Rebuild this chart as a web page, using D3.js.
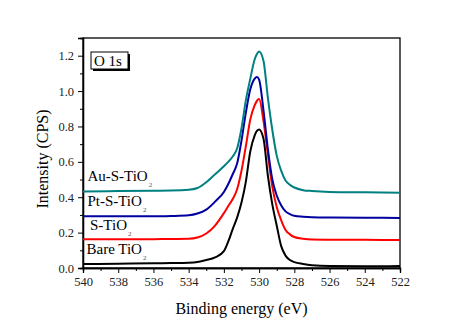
<!DOCTYPE html>
<html>
<head>
<meta charset="utf-8">
<script src="https://cdn.jsdelivr.net/npm/d3@7"></script>
<style>
  body { margin: 0; background: #fff; }
  svg { display: block; }
  text { font-family: "Liberation Serif", "Times New Roman", serif; }
</style>
</head>
<body>
<div id="plot"></div>
<script>
// binding energy grid (eV), shared by all spectra
const energy = [540, 538, 536, 535, 534, 533.5, 533, 532.5, 532, 531.75, 531.5, 531.25, 531,
  530.75, 530.5, 530.25, 530.125, 530, 529.75, 529.5, 529.25, 529, 528.75, 528.5, 528.25, 528,
  527.5, 527, 526, 524, 522];

const bareTiO2 = [0.022, 0.024, 0.027, 0.028, 0.030, 0.034, 0.045, 0.060, 0.095, 0.15, 0.22, 0.285, 0.37,
  0.49, 0.66, 0.75, 0.775, 0.783, 0.73, 0.52, 0.36, 0.24, 0.125, 0.07, 0.045, 0.033,
  0.023, 0.016, 0.011, 0.010, 0.012];
const sTiO2 = [0.163, 0.162, 0.163, 0.164, 0.165, 0.172, 0.195, 0.24, 0.31, 0.35, 0.39, 0.445, 0.55,
  0.69, 0.84, 0.92, 0.945, 0.955, 0.83, 0.64, 0.46, 0.345, 0.27, 0.215, 0.19, 0.175,
  0.165, 0.161, 0.160, 0.159, 0.158];
const ptSTiO2 = [0.292, 0.293, 0.292, 0.294, 0.298, 0.308, 0.33, 0.375, 0.43, 0.475, 0.53, 0.59, 0.72,
  0.88, 1.01, 1.07, 1.08, 1.065, 0.89, 0.67, 0.50, 0.41, 0.355, 0.32, 0.305, 0.295,
  0.290, 0.287, 0.285, 0.284, 0.283];
const auSTiO2 = [0.432, 0.435, 0.437, 0.438, 0.442, 0.452, 0.485, 0.53, 0.575, 0.60, 0.63, 0.675, 0.79,
  0.95, 1.07, 1.18, 1.21, 1.224, 1.17, 0.96, 0.78, 0.635, 0.55, 0.495, 0.47, 0.455,
  0.440, 0.435, 0.430, 0.428, 0.426];

const seriesNames = ["Bare TiO", "S-TiO", "Pt-S-TiO", "Au-S-TiO"];
const seriesData = [bareTiO2, sTiO2, ptSTiO2, auSTiO2];
const seriesColors = ["#000000", "#ff0000", "#0000a0", "#008080"];
// label anchors (energy, intensity) placed above each baseline
const labelPos = [[539.8, 0.078], [539.6, 0.213], [539.75, 0.348], [539.75, 0.493]];

const xTicks = d3.range(540, 521, -2);
const yTicks = [0, 0.2, 0.4, 0.6, 0.8, 1.0, 1.2];

const width = 464, height = 323;
const margin = { top: 38, right: 64, bottom: 55, left: 83 };

const svg = d3.select("#plot").append("svg")
  .attr("width", width)
  .attr("height", height);

const x = d3.scaleLinear()
  .domain([540, 522])
  .range([margin.left, width - margin.right]);

const y = d3.scaleLinear()
  .domain([0, 1.3])
  .range([height - margin.bottom, margin.top]);

// frame
svg.append("rect")
  .attr("x", x(540)).attr("y", y(1.3))
  .attr("width", x(522) - x(540)).attr("height", y(0) - y(1.3))
  .attr("fill", "none").attr("stroke", "#000").attr("stroke-width", 1.3);

// x axis: major + minor ticks
svg.append("g")
  .attr("class", "axis")
  .attr("transform", `translate(0,${y(0)})`)
  .call(d3.axisBottom(x).tickValues(xTicks).tickFormat(d3.format("d")).tickSize(5).tickPadding(4));
svg.append("g")
  .attr("class", "axis")
  .attr("transform", `translate(0,${y(0)})`)
  .call(d3.axisBottom(x).tickValues(d3.range(539, 522, -2)).tickFormat("").tickSize(3));

// y axis
svg.append("g")
  .attr("class", "axis")
  .attr("transform", `translate(${x(540)},0)`)
  .call(d3.axisLeft(y).tickValues(yTicks).tickFormat(d3.format(".1f")).tickSize(5).tickPadding(4));
svg.append("g")
  .attr("class", "axis")
  .attr("transform", `translate(${x(540)},0)`)
  .call(d3.axisLeft(y).tickValues([0.1, 0.3, 0.5, 0.7, 0.9, 1.1, 1.3]).tickFormat("").tickSize(3));

svg.selectAll("g.axis")
  .attr("font-family", "Liberation Serif, serif")
  .attr("font-size", 12.5);
svg.selectAll(".domain").attr("stroke", "#000").attr("stroke-width", 1.3);
svg.selectAll(".tick line").attr("stroke", "#000").attr("stroke-width", 1);
svg.selectAll(".tick text").attr("fill", "#222");

// spectra
const line = d3.line()
  .x((d, i) => x(energy[i]))
  .y(d => y(d))
  .curve(d3.curveMonotoneX);

seriesData.forEach((vals, k) => {
  svg.append("path")
    .datum(vals)
    .attr("d", line)
    .attr("fill", "none")
    .attr("stroke", seriesColors[k])
    .attr("stroke-width", 2);
});

// series labels with subscript 2
seriesNames.forEach((name, k) => {
  const t = svg.append("text")
    .attr("x", x(labelPos[k][0]))
    .attr("y", y(labelPos[k][1]))
    .attr("font-size", 15)
    .attr("fill", "#000")
    .text(name);
  t.append("tspan")
    .attr("dy", 6)
    .attr("dx", 1)
    .attr("font-size", 7)
    .attr("fill", "#555")
    .text("2");
});

// "O 1s" box with shadow
svg.append("rect")
  .attr("x", 93).attr("y", 54).attr("width", 37).attr("height", 17)
  .attr("fill", "#000");
svg.append("rect")
  .attr("x", 91).attr("y", 52).attr("width", 37).attr("height", 17)
  .attr("fill", "#fff").attr("stroke", "#000").attr("stroke-width", 1);
svg.append("text")
  .attr("x", 94).attr("y", 66)
  .attr("font-size", 15)
  .text("O 1s");

// axis titles
svg.append("text")
  .attr("x", (x(540) + x(522)) / 2)
  .attr("y", 314)
  .attr("text-anchor", "middle")
  .attr("font-size", 16)
  .text("Binding energy (eV)");

svg.append("text")
  .attr("transform", `translate(48,${159}) rotate(-90)`)
  .attr("text-anchor", "middle")
  .attr("font-size", 16)
  .text("Intensity (CPS)");
</script>
</body>
</html>
